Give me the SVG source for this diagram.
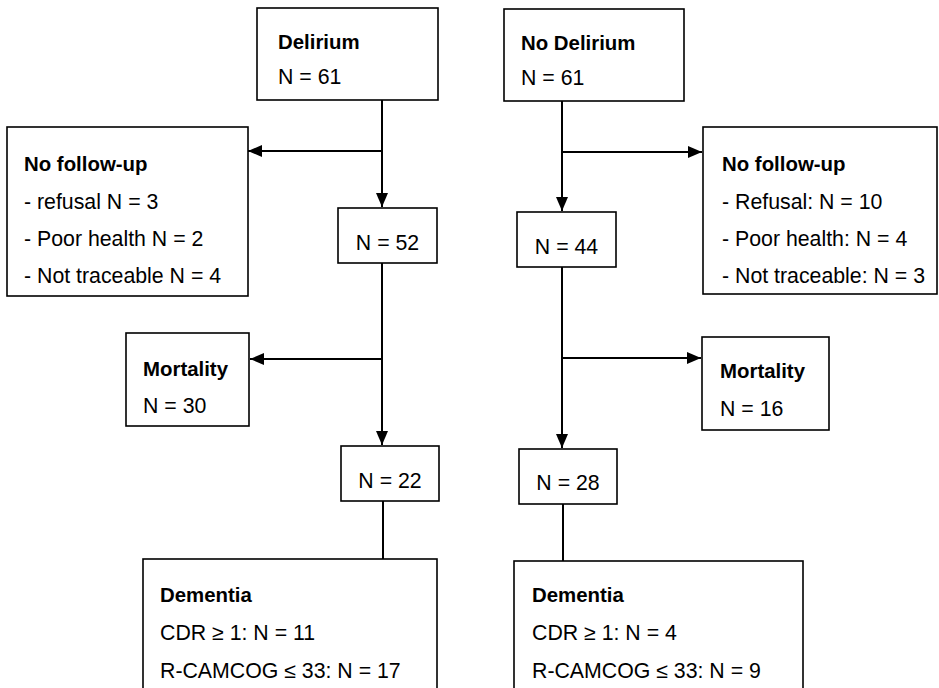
<svg xmlns="http://www.w3.org/2000/svg" width="939" height="688" viewBox="0 0 939 688">
<defs>
<style>
.box{fill:#fff;stroke:#000;stroke-width:1.6}
.t{font-family:"Liberation Sans",Arial,sans-serif;font-size:21.3px;fill:#000}
.b{font-weight:bold;font-size:20.4px}
.c{stroke:#000;stroke-width:2;fill:none}
</style>
<marker id="ah" viewBox="0 0 14 12" refX="14" refY="6" markerWidth="14" markerHeight="12" markerUnits="userSpaceOnUse" orient="auto">
<path d="M0,0 L14,6 L0,12 Z" fill="#000"/>
</marker>
</defs>
<rect width="939" height="688" fill="#fff"/>
<g id="connectors">
<line class="c" x1="382" y1="100" x2="382" y2="207" marker-end="url(#ah)"/>
<line class="c" x1="382" y1="151" x2="248" y2="151" marker-end="url(#ah)"/>
<line class="c" x1="382" y1="263" x2="382" y2="445" marker-end="url(#ah)"/>
<line class="c" x1="382" y1="359" x2="250" y2="359" marker-end="url(#ah)"/>
<line class="c" x1="383" y1="501" x2="383" y2="559"/>
<line class="c" x1="562" y1="101" x2="562" y2="211" marker-end="url(#ah)"/>
<line class="c" x1="562" y1="152" x2="702" y2="152" marker-end="url(#ah)"/>
<line class="c" x1="562" y1="267" x2="562" y2="448" marker-end="url(#ah)"/>
<line class="c" x1="562" y1="358" x2="701" y2="358" marker-end="url(#ah)"/>
<line class="c" x1="563" y1="504" x2="563" y2="561"/>
</g>
<g id="delirium">
<rect class="box" x="257" y="8" width="181" height="92"/>
<text class="t b" x="278" y="49">Delirium</text>
<text class="t" x="278" y="84">N = 61</text>
</g>
<g id="no-delirium">
<rect class="box" x="504" y="9" width="180" height="92"/>
<text class="t b" x="521" y="50">No Delirium</text>
<text class="t" x="521" y="85">N = 61</text>
</g>
<g id="nofollowup-left">
<rect class="box" x="7" y="127" width="241" height="169"/>
<text class="t b" x="24" y="171">No follow-up</text>
<text class="t" x="24" y="209">- refusal N = 3</text>
<text class="t" x="24" y="246">- Poor health N = 2</text>
<text class="t" x="24" y="283">- Not traceable N = 4</text>
</g>
<g id="nofollowup-right">
<rect class="box" x="703" y="127" width="234" height="167"/>
<text class="t b" x="722" y="171">No follow-up</text>
<text class="t" x="722" y="209">- Refusal: N = 10</text>
<text class="t" x="722" y="246">- Poor health: N = 4</text>
<text class="t" x="722" y="283">- Not traceable: N = 3</text>
</g>
<g id="n52">
<rect class="box" x="338" y="208" width="99" height="55"/>
<text class="t" x="387.5" y="250" text-anchor="middle">N = 52</text>
</g>
<g id="n44">
<rect class="box" x="517" y="212" width="99" height="55"/>
<text class="t" x="566.5" y="254" text-anchor="middle">N = 44</text>
</g>
<g id="mortality-left">
<rect class="box" x="126" y="333" width="123" height="93"/>
<text class="t b" x="143" y="376">Mortality</text>
<text class="t" x="143" y="413">N = 30</text>
</g>
<g id="mortality-right">
<rect class="box" x="702" y="337" width="127" height="93"/>
<text class="t b" x="720" y="378">Mortality</text>
<text class="t" x="720" y="416">N = 16</text>
</g>
<g id="n22">
<rect class="box" x="341" y="446" width="98" height="55"/>
<text class="t" x="390" y="488" text-anchor="middle">N = 22</text>
</g>
<g id="n28">
<rect class="box" x="519" y="449" width="98" height="55"/>
<text class="t" x="568" y="490" text-anchor="middle">N = 28</text>
</g>
<g id="dementia-left">
<rect class="box" x="143" y="559" width="294" height="150"/>
<text class="t b" x="160" y="602">Dementia</text>
<text class="t" x="160" y="640">CDR ≥ 1: N = 11</text>
<text class="t" x="160" y="678">R-CAMCOG ≤ 33: N = 17</text>
</g>
<g id="dementia-right">
<rect class="box" x="514" y="561" width="289" height="150"/>
<text class="t b" x="532" y="602">Dementia</text>
<text class="t" x="532" y="640">CDR ≥ 1: N = 4</text>
<text class="t" x="532" y="678">R-CAMCOG ≤ 33: N = 9</text>
</g>
</svg>
